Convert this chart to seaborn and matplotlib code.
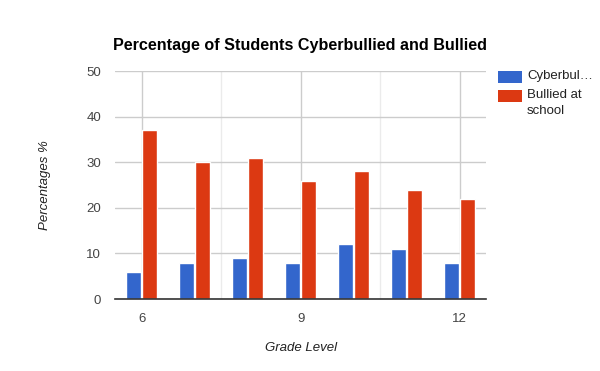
import pandas as pd
import matplotlib
matplotlib.use("Agg")
import matplotlib.pyplot as plt
import seaborn as sns
from matplotlib.patches import Rectangle

# data
grades = [6, 7, 8, 9, 10, 11, 12]
cyberbullied = [6, 8, 9, 8, 12, 11, 8]
bullied_school = [37, 30, 31, 26, 28, 24, 22]
series_names = ["Cyberbullied", "Bullied at school"]
legend_labels = ["Cyberbul\u2026", "Bullied at\nschool"]
colors = ["#3366CC", "#DC3912"]

df = pd.DataFrame({"grade": grades,
                   series_names[0]: cyberbullied,
                   series_names[1]: bullied_school})
long = df.melt(id_vars="grade", var_name="series", value_name="pct")

sns.set_style("white")
plt.rcParams["font.family"] = ["Liberation Sans", "DejaVu Sans"]

W, H = 600, 371
fig = plt.figure(figsize=(W / 100, H / 100), dpi=100)
ax = fig.add_axes([0.192, 0.194, 0.618, 0.614])

sns.barplot(data=long, x="grade", y="pct", hue="series", hue_order=series_names,
            palette=colors, native_scale=True, width=0.59, gap=0.04,
            saturation=1, legend=False, ax=ax)

ax.set_xlim(5.5, 12.5)
ax.set_ylim(0, 50)
ax.set_yticks(range(0, 51, 10))
ax.set_xticks([6, 9, 12])
ax.set_xticks([7.5, 10.5], minor=True)
ax.grid(True, axis="y", color="#cccccc", linewidth=1)
ax.grid(True, axis="x", which="major", color="#cccccc", linewidth=1)
ax.grid(True, axis="x", which="minor", color="#ebebeb", linewidth=1)
ax.set_axisbelow(True)
for s in ["top", "right", "left"]:
    ax.spines[s].set_visible(False)
ax.spines["bottom"].set_color("#333333")
ax.spines["bottom"].set_linewidth(1.2)
ax.spines["bottom"].set_zorder(5)
ax.tick_params(axis="both", which="both", length=0, labelsize=9.5, labelcolor="#444444")
ax.tick_params(axis="x", pad=10)
ax.tick_params(axis="y", pad=10)

ax.set_xlabel("Grade Level", fontstyle="italic", fontsize=9.5, color="#222222", labelpad=12)
ax.set_ylabel("")
fig.text(45 / W, 1 - 185 / H, "Percentages %", rotation=90, ha="center", va="center",
         fontstyle="italic", fontsize=9.5, color="#222222")
fig.text(0.5, 0.878, "Percentage of Students Cyberbullied and Bullied",
         ha="center", va="center", fontsize=11.6, fontweight="bold", color="#000000")

# legend drawn by hand (Google-chart style, wrapped label)
tops = [71, 90]
for c, lab, top in zip(colors, legend_labels, tops):
    fig.patches.append(Rectangle((498 / W, 1 - (top + 12) / H), 24 / W, 12 / H,
                                 facecolor=c, edgecolor="none",
                                 transform=fig.transFigure, figure=fig))
    fig.text(527 / W, 1 - (top - 1) / H, lab, ha="left", va="top", fontsize=9.5,
             color="#222222", linespacing=1.45)

fig.savefig("out.png", dpi=100)
